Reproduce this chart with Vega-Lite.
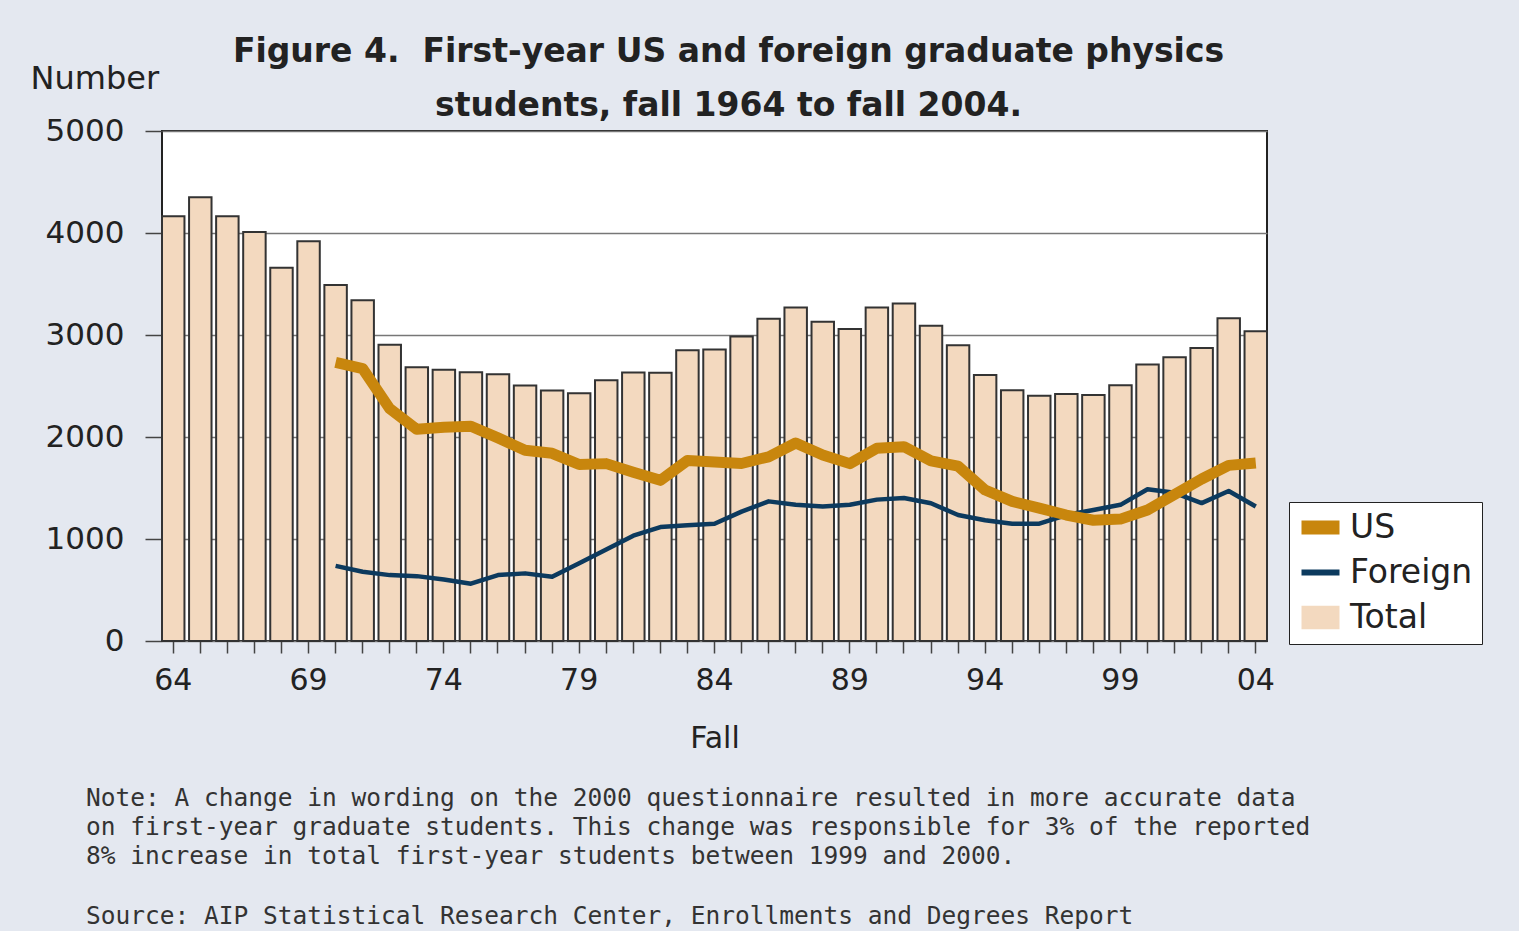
{
  "$schema": "https://vega.github.io/schema/vega-lite/v6.json",
  "width": 1105,
  "height": 510,
  "autosize": "none",
  "padding": {"left": 162, "top": 131, "right": 252, "bottom": 290},
  "background": "#e4e8f0",
  "config": {
    "view": {"stroke": "#222", "strokeWidth": 2, "fill": "white"},
    "font": "DejaVu Sans",
    "legend": {
      "orient": "none",
      "legendX": 1127,
      "legendY": 371,
      "fillColor": "white",
      "strokeColor": "#222",
      "padding": 9,
      "labelFont": "DejaVu Sans",
      "labelFontSize": 33,
      "labelColor": "#222",
      "labelOffset": 19,
      "rowPadding": 11,
      "symbolSize": 576,
      "symbolOpacity": 1,
      "symbolStrokeWidth": 2
    }
  },
  "title": {
    "text": [
      "Note: A change in wording on the 2000 questionnaire resulted in more accurate data",
      "on first-year graduate students.  This change was responsible for 3% of the reported",
      "8% increase in total first-year students between 1999 and 2000."
    ],
    "subtitle": "Source: AIP Statistical Research Center, Enrollments and Degrees Report",
    "orient": "bottom",
    "anchor": "start",
    "frame": "bounds",
    "font": "DejaVu Sans Mono",
    "fontSize": 24.5,
    "fontWeight": "normal",
    "color": "#333",
    "lineHeight": 29,
    "subtitleFont": "DejaVu Sans Mono",
    "subtitleFontSize": 24.5,
    "subtitleColor": "#333",
    "subtitlePadding": 35,
    "offset": 34,
    "dx": 56
  },
  "data": {
    "values": [
      {"year": 1964, "series": "Total", "value": 4165},
      {"year": 1965, "series": "Total", "value": 4350},
      {"year": 1966, "series": "Total", "value": 4165},
      {"year": 1967, "series": "Total", "value": 4010},
      {"year": 1968, "series": "Total", "value": 3660},
      {"year": 1969, "series": "Total", "value": 3920},
      {"year": 1970, "series": "Total", "value": 3490},
      {"year": 1971, "series": "Total", "value": 3340},
      {"year": 1972, "series": "Total", "value": 2905},
      {"year": 1973, "series": "Total", "value": 2685},
      {"year": 1974, "series": "Total", "value": 2660},
      {"year": 1975, "series": "Total", "value": 2635},
      {"year": 1976, "series": "Total", "value": 2615},
      {"year": 1977, "series": "Total", "value": 2505},
      {"year": 1978, "series": "Total", "value": 2455},
      {"year": 1979, "series": "Total", "value": 2430},
      {"year": 1980, "series": "Total", "value": 2556},
      {"year": 1981, "series": "Total", "value": 2632},
      {"year": 1982, "series": "Total", "value": 2630},
      {"year": 1983, "series": "Total", "value": 2850},
      {"year": 1984, "series": "Total", "value": 2858},
      {"year": 1985, "series": "Total", "value": 2985},
      {"year": 1986, "series": "Total", "value": 3160},
      {"year": 1987, "series": "Total", "value": 3270},
      {"year": 1988, "series": "Total", "value": 3130},
      {"year": 1989, "series": "Total", "value": 3060},
      {"year": 1990, "series": "Total", "value": 3270},
      {"year": 1991, "series": "Total", "value": 3308},
      {"year": 1992, "series": "Total", "value": 3090},
      {"year": 1993, "series": "Total", "value": 2900},
      {"year": 1994, "series": "Total", "value": 2607},
      {"year": 1995, "series": "Total", "value": 2458},
      {"year": 1996, "series": "Total", "value": 2404},
      {"year": 1997, "series": "Total", "value": 2421},
      {"year": 1998, "series": "Total", "value": 2411},
      {"year": 1999, "series": "Total", "value": 2507},
      {"year": 2000, "series": "Total", "value": 2710},
      {"year": 2001, "series": "Total", "value": 2782},
      {"year": 2002, "series": "Total", "value": 2872},
      {"year": 2003, "series": "Total", "value": 3165},
      {"year": 2004, "series": "Total", "value": 3036},
      {"year": 1970, "series": "US", "value": 2731},
      {"year": 1971, "series": "US", "value": 2670},
      {"year": 1972, "series": "US", "value": 2277},
      {"year": 1973, "series": "US", "value": 2075},
      {"year": 1974, "series": "US", "value": 2095},
      {"year": 1975, "series": "US", "value": 2105},
      {"year": 1976, "series": "US", "value": 1991},
      {"year": 1977, "series": "US", "value": 1870},
      {"year": 1978, "series": "US", "value": 1840},
      {"year": 1979, "series": "US", "value": 1730},
      {"year": 1980, "series": "US", "value": 1739},
      {"year": 1981, "series": "US", "value": 1655},
      {"year": 1982, "series": "US", "value": 1575},
      {"year": 1983, "series": "US", "value": 1770},
      {"year": 1984, "series": "US", "value": 1756},
      {"year": 1985, "series": "US", "value": 1740},
      {"year": 1986, "series": "US", "value": 1806},
      {"year": 1987, "series": "US", "value": 1941},
      {"year": 1988, "series": "US", "value": 1823},
      {"year": 1989, "series": "US", "value": 1739},
      {"year": 1990, "series": "US", "value": 1890},
      {"year": 1991, "series": "US", "value": 1905},
      {"year": 1992, "series": "US", "value": 1765},
      {"year": 1993, "series": "US", "value": 1715},
      {"year": 1994, "series": "US", "value": 1480},
      {"year": 1995, "series": "US", "value": 1369},
      {"year": 1996, "series": "US", "value": 1302},
      {"year": 1997, "series": "US", "value": 1235},
      {"year": 1998, "series": "US", "value": 1184},
      {"year": 1999, "series": "US", "value": 1195},
      {"year": 2000, "series": "US", "value": 1285},
      {"year": 2001, "series": "US", "value": 1436},
      {"year": 2002, "series": "US", "value": 1588},
      {"year": 2003, "series": "US", "value": 1722},
      {"year": 2004, "series": "US", "value": 1746},
      {"year": 1970, "series": "Foreign", "value": 737},
      {"year": 1971, "series": "Foreign", "value": 679},
      {"year": 1972, "series": "Foreign", "value": 646},
      {"year": 1973, "series": "Foreign", "value": 636},
      {"year": 1974, "series": "Foreign", "value": 602},
      {"year": 1975, "series": "Foreign", "value": 562},
      {"year": 1976, "series": "Foreign", "value": 646},
      {"year": 1977, "series": "Foreign", "value": 663},
      {"year": 1978, "series": "Foreign", "value": 629},
      {"year": 1979, "series": "Foreign", "value": 763},
      {"year": 1980, "series": "Foreign", "value": 898},
      {"year": 1981, "series": "Foreign", "value": 1033},
      {"year": 1982, "series": "Foreign", "value": 1117},
      {"year": 1983, "series": "Foreign", "value": 1134},
      {"year": 1984, "series": "Foreign", "value": 1150},
      {"year": 1985, "series": "Foreign", "value": 1268},
      {"year": 1986, "series": "Foreign", "value": 1369},
      {"year": 1987, "series": "Foreign", "value": 1335},
      {"year": 1988, "series": "Foreign", "value": 1319},
      {"year": 1989, "series": "Foreign", "value": 1335},
      {"year": 1990, "series": "Foreign", "value": 1386},
      {"year": 1991, "series": "Foreign", "value": 1402},
      {"year": 1992, "series": "Foreign", "value": 1350},
      {"year": 1993, "series": "Foreign", "value": 1235},
      {"year": 1994, "series": "Foreign", "value": 1184},
      {"year": 1995, "series": "Foreign", "value": 1150},
      {"year": 1996, "series": "Foreign", "value": 1150},
      {"year": 1997, "series": "Foreign", "value": 1235},
      {"year": 1998, "series": "Foreign", "value": 1285},
      {"year": 1999, "series": "Foreign", "value": 1335},
      {"year": 2000, "series": "Foreign", "value": 1487},
      {"year": 2001, "series": "Foreign", "value": 1453},
      {"year": 2002, "series": "Foreign", "value": 1352},
      {"year": 2003, "series": "Foreign", "value": 1470},
      {"year": 2004, "series": "Foreign", "value": 1319}
    ]
  },
  "resolve": {"axis": {"x": "independent"}},
  "layer": [
    {
      "transform": [{"filter": "datum.year === 2004"}],
      "mark": {
        "type": "point",
        "filled": true,
        "opacity": 0,
        "strokeWidth": 2,
        "stroke": {"expr": "(datum.series || datum.value) === 'Total' ? '#111' : 'transparent'"}
      },
      "encoding": {
        "x": {"field": "year", "type": "ordinal", "sort": "ascending", "axis": null},
        "y": {"field": "value", "type": "quantitative"},
        "color": {
          "field": "series",
          "type": "nominal",
          "scale": {"domain": ["US", "Foreign", "Total"], "range": ["#c8860d", "#0c3a5e", "#f3d9bf"]},
          "legend": {"title": null}
        },
        "shape": {
          "field": "series",
          "type": "nominal",
          "scale": {
            "domain": ["US", "Foreign", "Total"],
            "range": ["M-1,-0.5H2V0.5H-1Z", "M-1,-0.17H2V0.17H-1Z", "M-1,-0.9H2V0.9H-1Z"]
          },
          "legend": {"title": null}
        }
      }
    },
    {
      "transform": [{"filter": "datum.series === 'Total'"}],
      "mark": {"type": "bar", "stroke": "#333", "strokeWidth": 2, "opacity": 1},
      "encoding": {
        "x": {
          "field": "year",
          "type": "ordinal",
          "sort": "ascending",
          "scale": {"paddingInner": 0.17, "paddingOuter": 0},
          "axis": {
            "orient": "bottom",
            "title": "Fall",
            "labelExpr": "(datum.value - 1964) % 5 == 0 ? substring(toString(datum.value), 2, 4) : ''",
            "labelAngle": 0,
            "labelOverlap": false,
            "labelFont": "DejaVu Sans",
            "labelFontSize": 30,
            "labelColor": "#222",
            "labelPadding": 12,
            "tickSize": 12,
            "tickColor": "#444",
            "tickWidth": 1.5,
            "domain": false,
            "grid": false,
            "titleFont": "DejaVu Sans",
            "titleFontSize": 30,
            "titleFontWeight": "normal",
            "titleColor": "#222",
            "titlePadding": 28
          }
        },
        "y": {
          "field": "value",
          "type": "quantitative",
          "scale": {"domain": [0, 5000], "nice": false},
          "axis": {
            "values": [0, 1000, 2000, 3000, 4000, 5000],
            "format": "d",
            "title": "Number",
            "titleAngle": 0,
            "titleAlign": "left",
            "titleBaseline": "alphabetic",
            "titleX": -132,
            "titleY": -43,
            "titleFont": "DejaVu Sans",
            "titleFontSize": 32,
            "titleFontWeight": "normal",
            "titleColor": "#222",
            "labelFont": "DejaVu Sans",
            "labelFontSize": 31,
            "labelColor": "#222",
            "labelPadding": 21,
            "tickSize": 17,
            "tickColor": "#444",
            "tickWidth": 1.5,
            "domain": false,
            "grid": true,
            "gridColor": "#777",
            "gridWidth": 1.5
          }
        },
        "color": {"field": "series", "type": "nominal", "legend": null}
      }
    },
    {
      "transform": [{"filter": "datum.series === 'Foreign'"}],
      "mark": {"type": "line", "strokeWidth": 4.5, "strokeJoin": "round"},
      "encoding": {
        "x": {"field": "year", "type": "ordinal", "sort": "ascending", "axis": null},
        "y": {"field": "value", "type": "quantitative"},
        "color": {"field": "series", "type": "nominal", "legend": null}
      }
    },
    {
      "transform": [{"filter": "datum.series === 'US'"}],
      "mark": {"type": "line", "strokeWidth": 11, "strokeJoin": "round"},
      "encoding": {
        "x": {
          "field": "year",
          "type": "ordinal",
          "sort": "ascending",
          "axis": {
            "orient": "top",
            "title": ["Figure 4.\u00a0 First-year US and foreign graduate physics", "students, fall 1964 to fall 2004."],
            "labels": false,
            "ticks": false,
            "domain": false,
            "grid": false,
            "titleFont": "DejaVu Sans",
            "titleFontSize": 33,
            "titleFontWeight": "bold",
            "titleColor": "#222",
            "titleLineHeight": 54,
            "titleAlign": "center",
            "titleAnchor": "middle",
            "titleBaseline": "alphabetic",
            "titleX": 566,
            "titleY": -70
          }
        },
        "y": {"field": "value", "type": "quantitative"},
        "color": {"field": "series", "type": "nominal", "legend": null}
      }
    }
  ]
}
